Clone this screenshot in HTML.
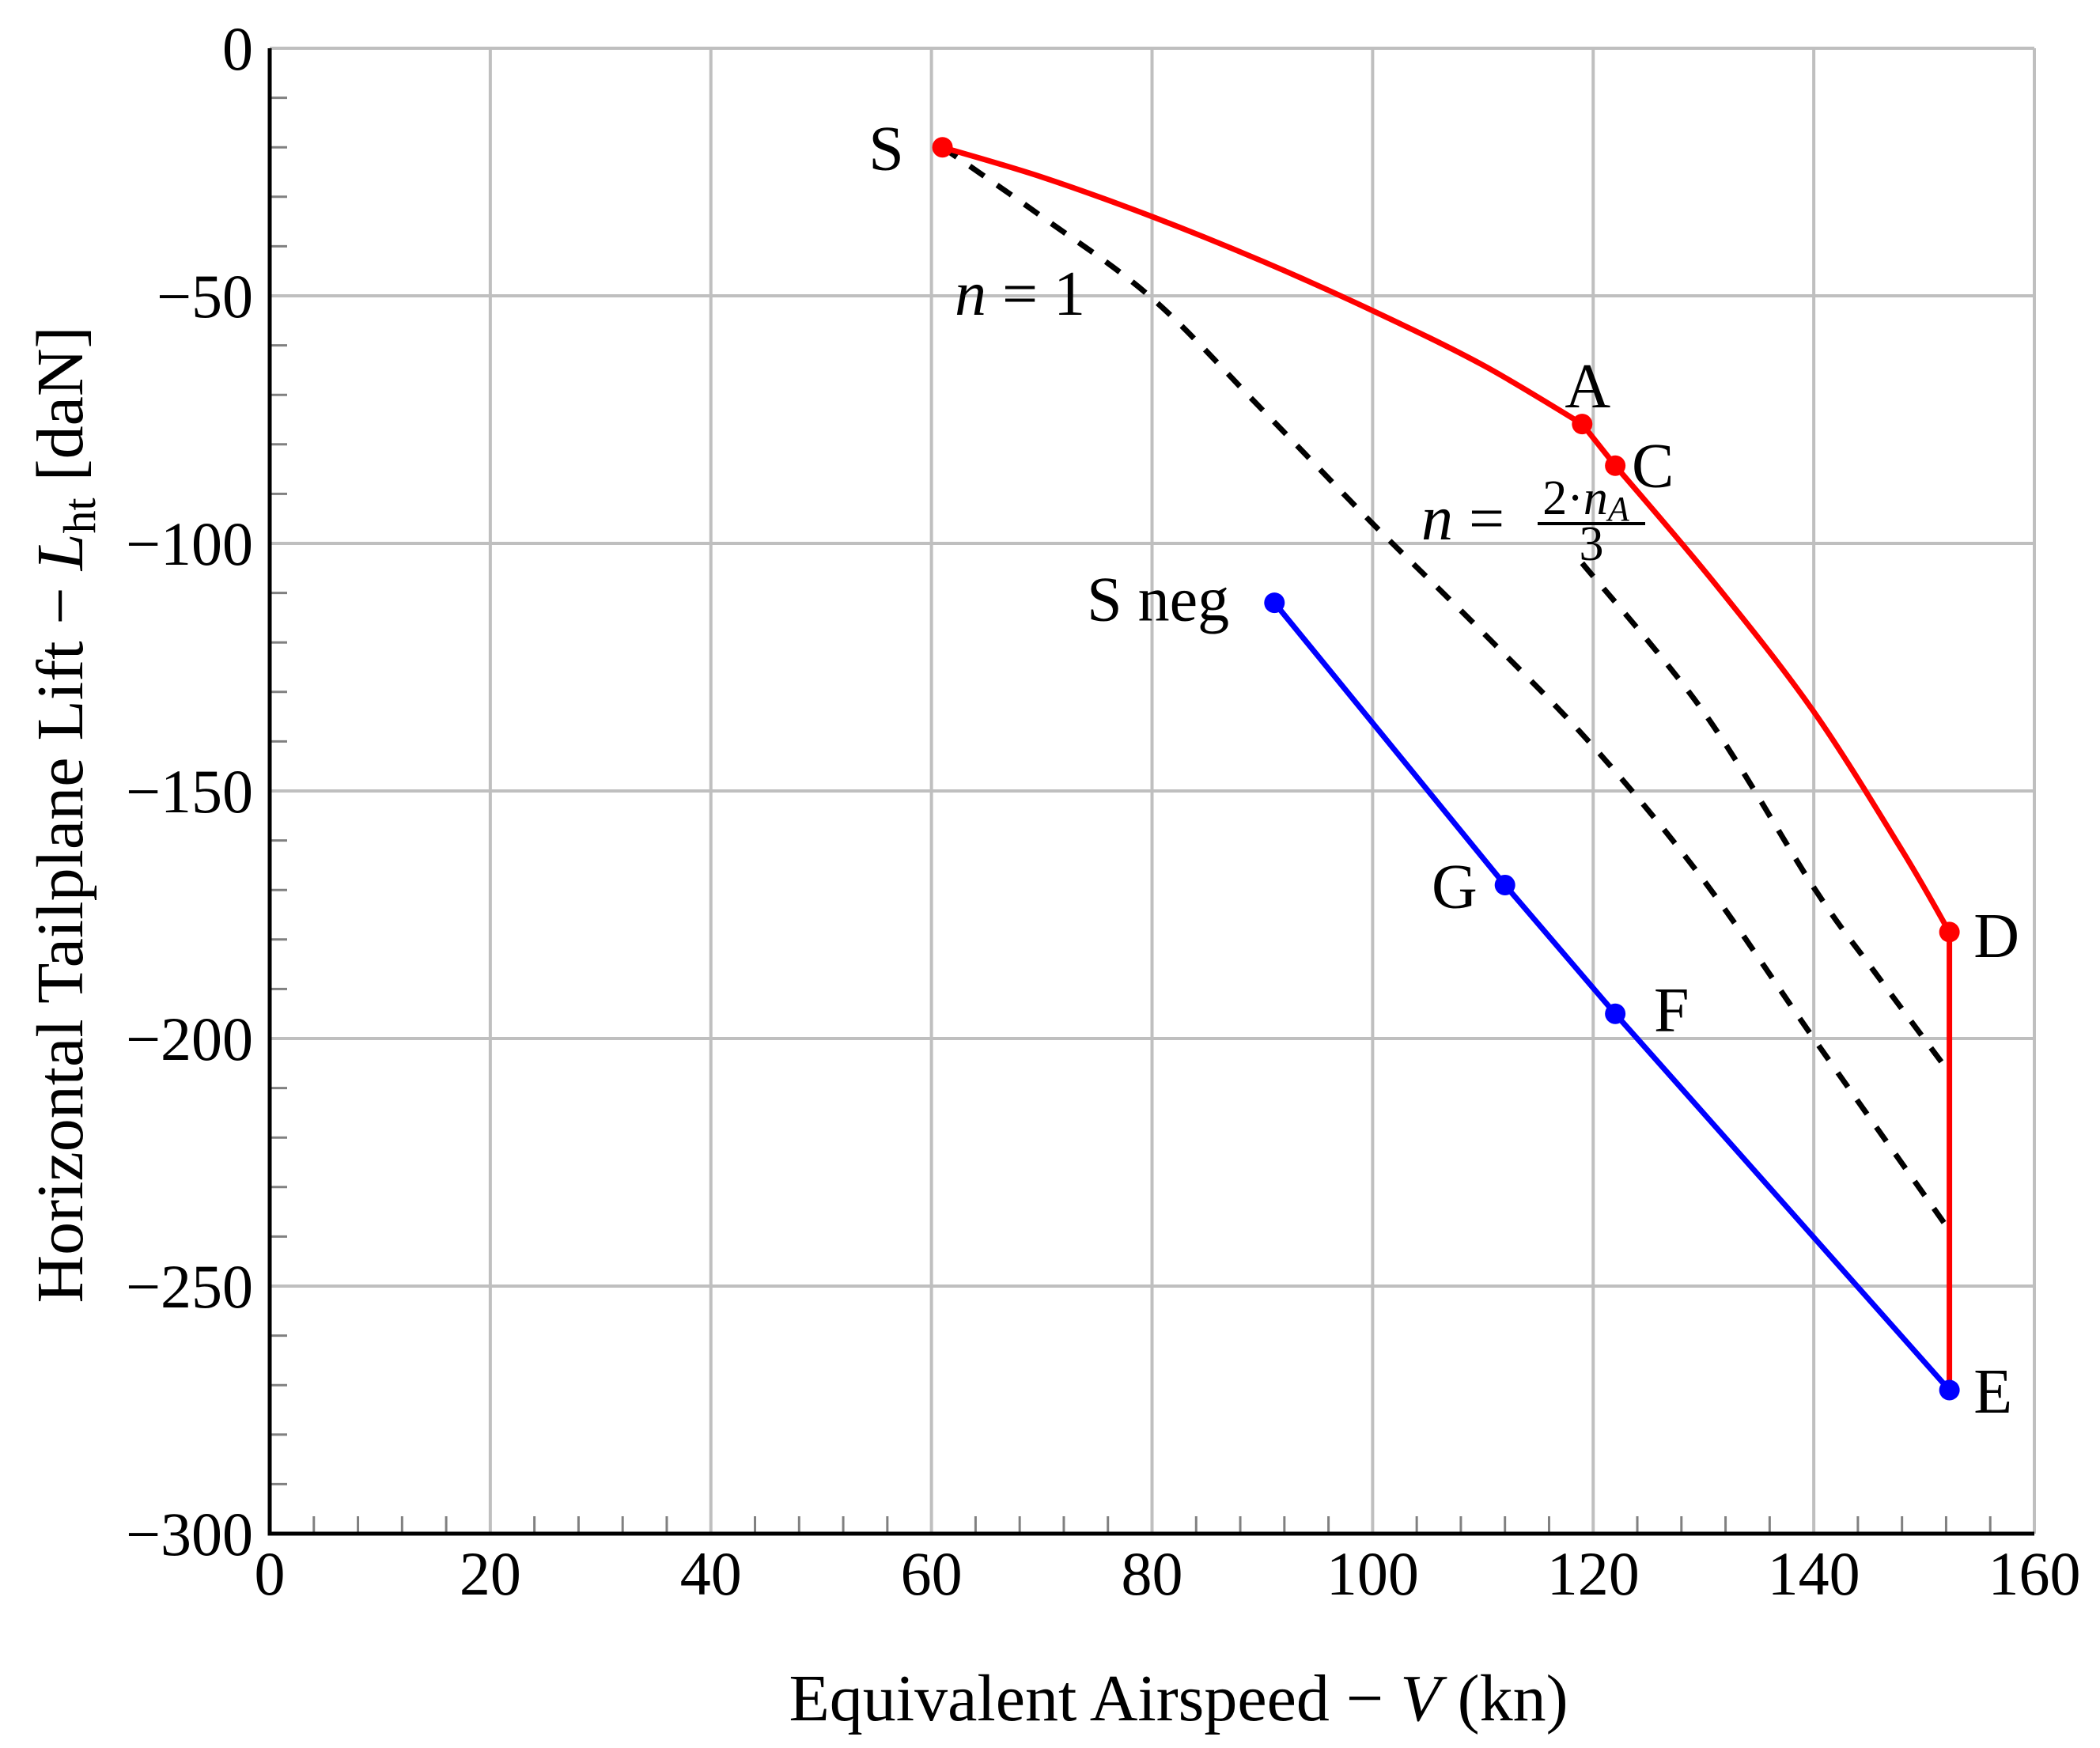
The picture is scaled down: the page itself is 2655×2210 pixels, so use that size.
<!DOCTYPE html>
<html><head><meta charset="utf-8"><style>
html,body{margin:0;padding:0;background:#fff}
svg{display:block}
text{font-family:"Liberation Serif",serif;fill:#000}
</style></head><body>
<svg id="chart" width="2655" height="2210" viewBox="0 0 2655 2210" xmlns="http://www.w3.org/2000/svg">
<g id="grid"></g>
<g id="ticks"></g>
<g id="series"></g>
<g id="labels"></g>
<text x="1490" y="2175" font-size="84" text-anchor="middle">Equivalent Airspeed − <tspan font-style="italic">V</tspan> (kn)</text>
<text transform="translate(104,1030) rotate(-90)" font-size="84" text-anchor="middle">Horizontal Tailplane Lift − <tspan font-style="italic">L</tspan><tspan font-size="58" dy="16">ht</tspan><tspan dy="-16"> [daN]</tspan></text>
</svg>
<script>
const xTicks = [0, 20, 40, 60, 80, 100, 120, 140, 160];
const yTicks = [0, -50, -100, -150, -200, -250, -300];
const upperCurveX = [61, 70, 80, 90, 100, 110, 119, 122, 131, 140, 148, 152.3, 152.3];
const upperCurveY = [-20, -26, -34, -43, -53, -64, -75.9, -84.3, -108, -134, -162, -178.5, -271];
const lowerCurveX = [91.1, 112, 122, 152.3];
const lowerCurveY = [-112, -169, -195, -271];
const n1X = [61, 70, 80, 90, 100, 110, 120, 130, 140, 151.9];
const n1Y = [-20, -34, -50.5, -73, -96, -118, -141, -168, -200, -237.5];
const n23X = [119, 130, 140, 145.5, 152];
const n23Y = [-104, -134, -169.5, -186.5, -206];
const redPtsX = [61, 119, 122, 152.3];
const redPtsY = [-20, -75.9, -84.3, -178.5];
const bluePtsX = [91.1, 112, 122, 152.3];
const bluePtsY = [-112, -169, -195, -271];
const ptLabels = ["S","A","C","D","S neg","G","F","E"];
const ptLabelX = [57.5, 119.5, 123.5, 154.5, 87, 109.5, 125.5, 154.5];
const ptLabelY = [-22, -70, -86, -181, -113, -171, -196, -273];
const ptAnchor = ["end","middle","start","start","end","end","start","start"];

const L=341,R=2572,T=61,B=1939;
const sx=v=>L+(v-0)/(160-0)*(R-L);
const sy=v=>T+(0-v)/(300)*(B-T);
const NS="http://www.w3.org/2000/svg";
function mk(tag,parent,attrs){const e=document.createElementNS(NS,tag);for(const k in attrs)e.setAttribute(k,attrs[k]);parent.appendChild(e);return e;}
const grid=document.getElementById('grid'),ticks=document.getElementById('ticks'),series=document.getElementById('series'),labels=document.getElementById('labels');

xTicks.forEach(v=>{
  const g=mk('line',grid,{x1:sx(v),x2:sx(v),y1:T,y2:B,stroke:'#bfbfbf','stroke-width':4});
  
  
  const t=mk('text',ticks,{x:sx(v),y:2016,'font-size':78,'text-anchor':'middle'});
  t.textContent=v;
  
  
});
yTicks.forEach(v=>{
  const g=mk('line',grid,{x1:L,x2:R,y1:sy(v),y2:sy(v),stroke:'#bfbfbf','stroke-width':4});
  
  
  const t=mk('text',ticks,{x:320,y:sy(v)+27,'font-size':78,'text-anchor':'end'});
  t.textContent=v===0?'0':'−'+Math.abs(v);
  
  
});
for(let v=0;v<=160;v+=4){ if(v%20===0)continue;
  const m=mk('line',ticks,{x1:sx(v),x2:sx(v),y1:B,y2:B-22,stroke:'#808080','stroke-width':3});
  
  
}
for(let v=0;v>=-300;v-=10){ if(v%50===0)continue;
  const m=mk('line',ticks,{x1:L,x2:L+22,y1:sy(v),y2:sy(v),stroke:'#808080','stroke-width':3});
  
  
}
const ax=mk('path',ticks,{d:`M${L},${T} L${L},${B} L${R},${B}`,fill:'none',stroke:'#000','stroke-width':5});



function smooth(xs,ys,a,b,first){
  const P=[];for(let i=a;i<=b;i++)P.push([sx(xs[i]),sy(ys[i])]);
  let d=first?`M${P[0][0].toFixed(1)},${P[0][1].toFixed(1)}`:'';
  if(P.length===2)return d+` L${P[1][0].toFixed(1)},${P[1][1].toFixed(1)}`;
  for(let i=0;i<P.length-1;i++){
    const p0=P[Math.max(0,i-1)],p1=P[i],p2=P[i+1],p3=P[Math.min(P.length-1,i+2)];
    const c1=[p1[0]+(p2[0]-p0[0])/6,p1[1]+(p2[1]-p0[1])/6];
    const c2=[p2[0]-(p3[0]-p1[0])/6,p2[1]-(p3[1]-p1[1])/6];
    d+=` C${c1[0].toFixed(1)},${c1[1].toFixed(1)} ${c2[0].toFixed(1)},${c2[1].toFixed(1)} ${p2[0].toFixed(1)},${p2[1].toFixed(1)}`;
  }
  return d;
}
function poly(xs,ys){return xs.map((x,i)=>(i?'L':'M')+sx(x).toFixed(1)+','+sy(ys[i]).toFixed(1)).join(' ');}
const n=upperCurveX.length;
const upD=smooth(upperCurveX,upperCurveY,0,6,true)+smooth(upperCurveX,upperCurveY,6,7,false)+smooth(upperCurveX,upperCurveY,7,n-2,false)+smooth(upperCurveX,upperCurveY,n-2,n-1,false);

const d1=mk('path',series,{d:smooth(n1X,n1Y,0,n1X.length-1,true),fill:'none',stroke:'#000','stroke-width':7,'stroke-dasharray':'22 20'});


const d2=mk('path',series,{d:smooth(n23X,n23Y,0,n23X.length-1,true),fill:'none',stroke:'#000','stroke-width':7,'stroke-dasharray':'22 20'});


const up=mk('path',series,{d:upD,fill:'none',stroke:'#ff0000','stroke-width':7,'stroke-linejoin':'round'});


const lo=mk('path',series,{d:poly(lowerCurveX,lowerCurveY),fill:'none',stroke:'#0000ff','stroke-width':7,'stroke-linejoin':'round'});


redPtsX.forEach((x,i)=>{
  const c=mk('circle',series,{cx:sx(x),cy:sy(redPtsY[i]),r:13,fill:'#ff0000'});
  
  
});
bluePtsX.forEach((x,i)=>{
  const c=mk('circle',series,{cx:sx(x),cy:sy(bluePtsY[i]),r:13,fill:'#0000ff'});
  
  
});
ptLabels.forEach((s,i)=>{
  const t=mk('text',labels,{x:sx(ptLabelX[i]),y:sy(ptLabelY[i])+16,'font-size':80,'text-anchor':ptAnchor[i]});
  t.textContent=s;
  
  
});
const n1=mk('text',labels,{x:1207,y:398,'font-size':80});
n1.innerHTML='<tspan font-style="italic">n</tspan> = 1';


const n2=mk('text',labels,{x:1797,y:682,'font-size':80});
n2.innerHTML='<tspan font-style="italic">n</tspan> =';


const num=mk('text',labels,{x:2005,y:650,'font-size':62,'text-anchor':'middle'});
num.innerHTML='2·<tspan font-style="italic">n</tspan><tspan font-size="44" font-style="italic" dy="8">A</tspan>';


const bar=mk('line',labels,{x1:1944,x2:2080,y1:662,y2:662,stroke:'#000','stroke-width':4});


const den=mk('text',labels,{x:2012,y:708,'font-size':62,'text-anchor':'middle'});
den.textContent='3';


</script>
</body></html>
